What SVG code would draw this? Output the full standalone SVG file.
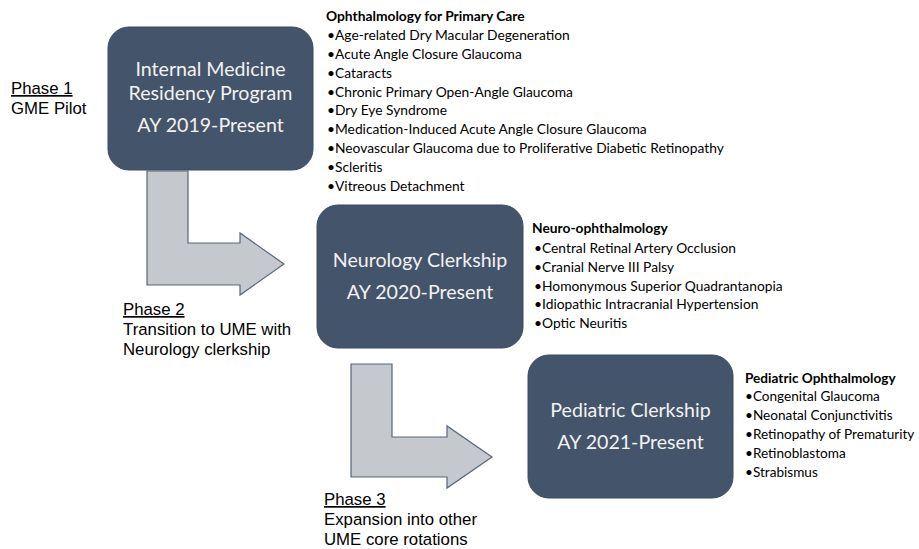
<svg xmlns="http://www.w3.org/2000/svg" width="919" height="549" viewBox="0 0 919 549">
  <style>
    .box { fill: #44546a; stroke: #3a4a60; stroke-width: 1; }
    .boxtext { font-family: Lato, "Open Sans", sans-serif; font-size: 19.6px; fill: #f2f2f2; text-anchor: middle; }
    .arrow { fill: #c5c8cd; stroke: #56667c; stroke-width: 1.2; stroke-linejoin: miter; }
    .list { font-family: Lato, "Open Sans", sans-serif; font-size: 13.8px; fill: #000; }
    .tight { font-size: 13.6px; }
    .head { font-weight: bold; }
    .phase { font-family: "Liberation Sans", Arial, sans-serif; font-size: 16.8px; fill: #000; }
    .ul { text-decoration: underline; }
  </style>

  <!-- Connectors: bent block arrows between the stages -->
  <g id="connectors">
    <polygon class="arrow" points="147,171 188,171 188,243 240,243 240,233 284,264 240,295 240,285 147,285"/>
    <polygon class="arrow" points="351,364 392,364 392,437 447,437 447,426 492,457 447,488 447,477 351,477"/>
  </g>

  <!-- Stage 1 -->
  <g id="internal-medicine">
    <rect class="box" x="108" y="27" width="205" height="143" rx="21" ry="21"/>
    <text class="boxtext" x="210.5" y="76">Internal Medicine</text>
    <text class="boxtext" x="210.5" y="100">Residency Program</text>
    <text class="boxtext" x="210.5" y="132">AY 2019-Present</text>
  </g>

  <g id="primary-care-list" class="list">
    <text class="head" x="326" y="21">Ophthalmology for Primary Care</text>
    <text x="327" y="40">•<tspan x="335">Age-related Dry Macular Degeneration</tspan></text>
    <text x="327" y="58.85">•<tspan x="335">Acute Angle Closure Glaucoma</tspan></text>
    <text x="327" y="77.7">•<tspan x="335">Cataracts</tspan></text>
    <text x="327" y="96.55">•<tspan x="335">Chronic Primary Open-Angle Glaucoma</tspan></text>
    <text x="327" y="115.4">•<tspan x="335">Dry Eye Syndrome</tspan></text>
    <text x="327" y="134.25">•<tspan x="335">Medication-Induced Acute Angle Closure Glaucoma</tspan></text>
    <text x="327" y="153.1">•<tspan x="335">Neovascular Glaucoma due to Proliferative Diabetic Retinopathy</tspan></text>
    <text x="327" y="171.95">•<tspan x="335">Scleritis</tspan></text>
    <text x="327" y="190.8">•<tspan x="335">Vitreous Detachment</tspan></text>
  </g>

  <g id="phase-1" class="phase">
    <text class="ul" x="11" y="94">Phase 1</text>
    <text x="11" y="114">GME Pilot</text>
  </g>

  <!-- Stage 2 -->
  <g id="neurology-clerkship">
    <rect class="box" x="317" y="205" width="206" height="143" rx="21" ry="21"/>
    <text class="boxtext" x="420" y="267">Neurology Clerkship</text>
    <text class="boxtext" x="420" y="299">AY 2020-Present</text>
  </g>

  <g id="neuro-list" class="list">
    <text class="head" x="532" y="233">Neuro-ophthalmology</text>
    <text x="534" y="252.7">•<tspan x="542">Central Retinal Artery Occlusion</tspan></text>
    <text x="534" y="271.6">•<tspan x="542">Cranial Nerve III Palsy</tspan></text>
    <text x="534" y="290.5">•<tspan x="542">Homonymous Superior Quadrantanopia</tspan></text>
    <text x="534" y="309.4">•<tspan x="542">Idiopathic Intracranial Hypertension</tspan></text>
    <text x="534" y="328.3">•<tspan x="542">Optic Neuritis</tspan></text>
  </g>

  <g id="phase-2" class="phase">
    <text class="ul" x="123" y="315">Phase 2</text>
    <text x="123" y="335">Transition to UME with</text>
    <text x="123" y="355">Neurology clerkship</text>
  </g>

  <!-- Stage 3 -->
  <g id="pediatric-clerkship">
    <rect class="box" x="528" y="355" width="205" height="143" rx="21" ry="21"/>
    <text class="boxtext" x="630.5" y="417">Pediatric Clerkship</text>
    <text class="boxtext" x="630.5" y="449">AY 2021-Present</text>
  </g>

  <g id="pediatric-list" class="list tight">
    <text class="head" x="745" y="382.7">Pediatric Ophthalmology</text>
    <text x="745" y="401">•Congenital Glaucoma</text>
    <text x="745" y="420">•Neonatal Conjunctivitis</text>
    <text x="745" y="439">•Retinopathy of Prematurity</text>
    <text x="745" y="458">•Retinoblastoma</text>
    <text x="745" y="477">•Strabismus</text>
  </g>

  <g id="phase-3" class="phase">
    <text class="ul" x="324" y="505">Phase 3</text>
    <text x="324" y="525">Expansion into other</text>
    <text x="324" y="545">UME core rotations</text>
  </g>
</svg>
